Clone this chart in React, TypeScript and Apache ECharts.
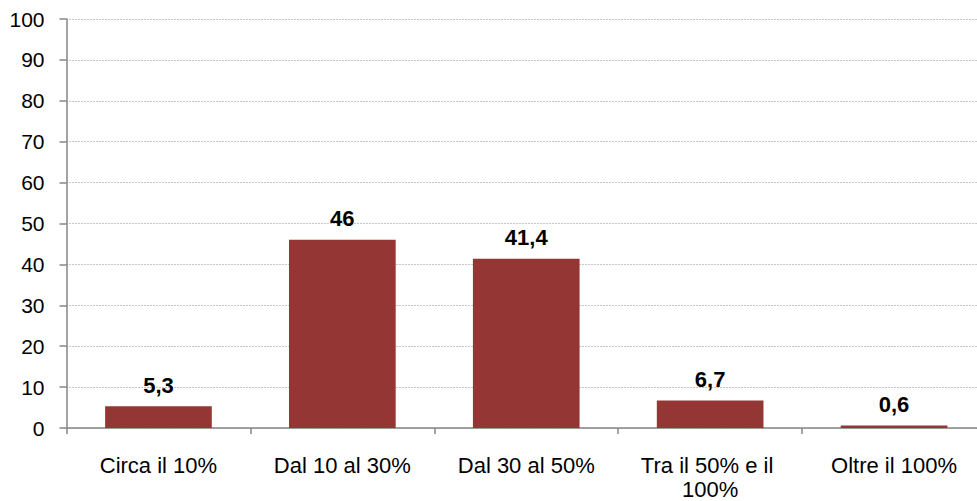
import React, { useEffect, useRef } from "react";
import * as echarts from "echarts";

const categories = ["Circa il 10%", "Dal 10 al 30%", "Dal 30 al 50%", "Tra il 50% e il 100%", "Oltre il 100%"];
const values = [5.3, 46, 41.4, 6.7, 0.6];

export default function App() {
  const ref = useRef<HTMLDivElement>(null);
  useEffect(() => {
    const chart = echarts.init(ref.current!, null, { renderer: "svg" });
    chart.setOption({
      animation: false,
      backgroundColor: "#ffffff",
      grid: { left: 66.5, right: 0, top: 19, bottom: 73 },
      xAxis: {
        type: "category",
        data: categories,
        axisLine: { lineStyle: { color: "#868686", width: 1.5 } },
        axisTick: { show: true, length: 6, alignWithLabel: false, lineStyle: { color: "#868686", width: 1.5 } },
        axisLabel: {
          color: "#000",
          fontSize: 22,
          fontFamily: "Liberation Sans, Arial, sans-serif",
          margin: 25,
          lineHeight: 24,
          width: 170,
          overflow: "break",
          interval: 0,
        },
      },
      yAxis: {
        type: "value",
        min: 0,
        max: 100,
        interval: 10,
        axisLine: { show: true, lineStyle: { color: "#868686", width: 1.5 } },
        axisTick: { show: true, length: 7, lineStyle: { color: "#868686", width: 1.5 } },
        axisLabel: {
          color: "#000",
          fontSize: 21,
          fontFamily: "Liberation Sans, Arial, sans-serif",
          margin: 22,
        },
        splitLine: { lineStyle: { color: "#8c8c8c", type: [1, 2], width: 1 } },
      },
      series: [
        {
          type: "bar",
          data: values,
          barWidth: "58%",
          itemStyle: { color: "#943634" },
          label: {
            show: true,
            position: "top",
            distance: 10,
            color: "#000",
            fontSize: 22,
            fontWeight: "bold",
            fontFamily: "Liberation Sans, Arial, sans-serif",
            formatter: (p: any) => String(p.value).replace(".", ","),
          },
        },
      ],
    });
    return () => chart.dispose();
  }, []);
  return <div ref={ref} style={{ position: "fixed", left: 0, top: 0, width: 986, height: 501 }} />;
}
